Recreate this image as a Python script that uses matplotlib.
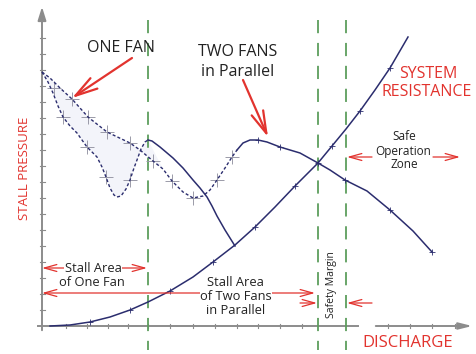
import matplotlib
matplotlib.use("Agg")
import matplotlib.pyplot as plt

plt.rcParams['font.family'] = ['Open Sans', 'DejaVu Sans']
plt.rcParams['lines.scale_dashes'] = False

# ---- data (discharge, pressure) in arbitrary chart units ----
one_fan_upper_d = [0, 8, 18, 30, 46, 65, 88, 98, 111, 121, 130, 141, 151, 161, 168, 175, 183, 190, 195]
one_fan_upper_p = [254, 248, 238, 227, 209, 194, 183, 176, 165, 157, 145, 134, 128, 130, 136, 146, 158, 169, 176]

one_fan_lower_d = [0, 6, 11, 16, 21, 28, 35, 45, 55, 60, 64, 68, 72, 75, 79, 84, 88, 92, 95, 99, 103, 106]
one_fan_lower_p = [254, 244, 233, 220, 209, 200, 193, 179, 169, 159, 149, 138, 131, 129, 130, 137, 146, 158, 166, 177, 184, 186]

two_fan_left_d = [106, 110, 118, 131, 141, 151, 158, 165, 170, 175, 183, 193]
two_fan_left_p = [186, 185, 179, 168, 158, 146, 138, 129, 120, 110, 96, 80]

two_fan_right_d = [195, 201, 208, 216, 225, 238, 258, 276, 288, 303, 325, 348, 371, 390]
two_fan_right_p = [176, 183, 186, 186, 184, 179, 173, 163, 156, 146, 135, 116, 95, 74]

system_d = [8, 28, 48, 68, 88, 106, 128, 151, 171, 193, 213, 233, 253, 276, 290, 304, 318, 333, 348, 366]
system_p = [0, 1, 4, 9, 16, 24, 35, 49, 64, 81, 99, 119, 140, 163, 180, 197, 215, 236, 258, 289]

limit_lines_d = [106, 276, 304]
y_tick_p = [16 * k for k in range(1, 19)]
x_tick_d = [24, 45, 66, 86, 106, 128, 151, 173, 195, 216, 238, 260, 346, 368, 390, 413]

cross_d = [30, 46, 65, 88, 130, 151, 175, 190, 21, 45, 64, 88, 12, 111]
cross_p = [227, 209, 194, 183, 145, 128, 146, 169, 209, 179, 149, 146, 238, 165]

NAVY = '#2b2d6e'
GREEN = '#5d9e5d'
RED = '#e2332e'
GRAY = '#8c8c8c'

fig = plt.figure(figsize=(4.77, 3.54), dpi=100)
ax = fig.add_axes([0, 0, 1, 1])
ax.set_xlim(-42, 435)
ax.set_ylim(-28, 326)
ax.axis('off')

# faint fill between one-fan curves
poly_d = one_fan_lower_d + one_fan_upper_d[:10][::-1]
poly_p = one_fan_lower_p + one_fan_upper_p[:10][::-1]
ax.fill(poly_d, poly_p, color='#f3f4fa', zorder=0, lw=0)

# axes
ax.annotate('', xy=(0, 322), xytext=(0, -7),
            arrowprops=dict(arrowstyle='-|>,head_length=0.8,head_width=0.25', color=GRAY, lw=1.4))
ax.plot([-4, 316], [0, 0], color=GRAY, lw=1.4, zorder=1)
ax.annotate('', xy=(433, 0), xytext=(331, 0),
            arrowprops=dict(arrowstyle='-|>,head_length=0.8,head_width=0.2', color=GRAY, lw=1.4))
for p in y_tick_p:
    ax.plot([-2, 3], [p, p], color=GRAY, lw=0.8)
for d in x_tick_d:
    ax.plot([d, d], [-2, 2], color=GRAY, lw=0.8)

# vertical dashed green lines
for d in limit_lines_d:
    ax.plot([d, d], [306, -24], color=GREEN, lw=1.3, dashes=(9.5, 7), zorder=2)

# faint crosses
ax.plot(cross_d, cross_p, ls='none', marker='+', ms=10, mew=0.7, color='#9a9aa8', zorder=2)

# curves
ax.plot(one_fan_upper_d, one_fan_upper_p, color=NAVY, lw=1.0, dashes=(2.2, 1.6), zorder=3)
ax.plot(one_fan_lower_d, one_fan_lower_p, color=NAVY, lw=1.0, dashes=(2.2, 1.6), zorder=3)
ax.plot(two_fan_left_d, two_fan_left_p, color=NAVY, lw=1.1, zorder=3)
ax.plot(two_fan_right_d, two_fan_right_p, color=NAVY, lw=1.1, zorder=3)
ax.plot(system_d, system_p, color=NAVY, lw=1.1, zorder=3)
ax.plot(system_d[2::2], system_p[2::2], ls='none', marker='+', ms=5, mew=0.6, color=NAVY, zorder=3)
ax.plot(two_fan_right_d[3::2], two_fan_right_p[3::2], ls='none', marker='+', ms=5, mew=0.6, color=NAVY, zorder=3)

# red arrows
def red_arrow(x0, y0, x1, y1, style='->,head_length=0.9,head_width=0.3', lw=1.3):
    ax.annotate('', xy=(x1, y1), xytext=(x0, y0),
                arrowprops=dict(arrowstyle=style, color=RED, lw=lw, shrinkA=0, shrinkB=0), zorder=4)

red_arrow(90, 268, 30, 228, style='->,head_length=1.6,head_width=0.45', lw=1.6)
red_arrow(201, 246, 226, 189, style='->,head_length=1.6,head_width=0.45', lw=1.6)
red_arrow(0, 58, 105, 58, style='<->,head_length=0.9,head_width=0.25', lw=0.9)
red_arrow(0, 33, 273, 33, style='<->,head_length=0.9,head_width=0.25', lw=0.9)
red_arrow(258, 23, 275, 23, lw=0.9, style='->,head_length=0.9,head_width=0.25')
red_arrow(330, 23, 305, 23, lw=0.9, style='->,head_length=0.9,head_width=0.25')
red_arrow(330, 169, 305, 169, lw=0.9, style='->,head_length=0.9,head_width=0.25')
red_arrow(391, 169, 418, 169, lw=0.9, style='->,head_length=0.9,head_width=0.25')

# texts
wb = dict(facecolor='white', edgecolor='none', pad=0.5)
ax.text(79, 278, 'ONE FAN', ha='center', va='center', fontsize=11.5, color='#222222')
ax.text(196, 274, 'TWO FANS', ha='center', va='center', fontsize=11.5, color='#222222')
ax.text(196, 254, 'in Parallel', ha='center', va='center', fontsize=11.5, color='#222222')
ax.text(386, 252, 'SYSTEM', ha='center', va='center', fontsize=11.5, color=RED)
ax.text(385, 234, 'RESISTANCE', ha='center', va='center', fontsize=11.5, color=RED)
ax.text(362, 189, 'Safe', ha='center', va='center', fontsize=8.5, color='#222222')
ax.text(361, 175, 'Operation', ha='center', va='center', fontsize=8.5, color='#222222', bbox=wb, zorder=5)
ax.text(362, 162, 'Zone', ha='center', va='center', fontsize=8.5, color='#222222')
ax.text(-17, 158, 'STALL PRESSURE', ha='center', va='center', rotation=90, fontsize=9.5, color=RED)
ax.text(366, -17, 'DISCHARGE', ha='center', va='center', fontsize=12, color=RED)
ax.text(51, 57, 'Stall Area', ha='center', va='center', fontsize=9.3, color='#222222', bbox=wb, zorder=5)
ax.text(50, 43, 'of One Fan', ha='center', va='center', fontsize=9.3, color='#222222')
ax.text(193, 43, 'Stall Area', ha='center', va='center', fontsize=9.3, color='#222222')
ax.text(194, 29, 'of Two Fans', ha='center', va='center', fontsize=9.3, color='#222222', bbox=wb, zorder=5)
ax.text(194, 15, 'in Parallel', ha='center', va='center', fontsize=9.3, color='#222222')
ax.text(290, 41, 'Safety Margin', ha='center', va='center', rotation=90, fontsize=7.5, color='#222222')

fig.savefig('out.png', dpi=100)
